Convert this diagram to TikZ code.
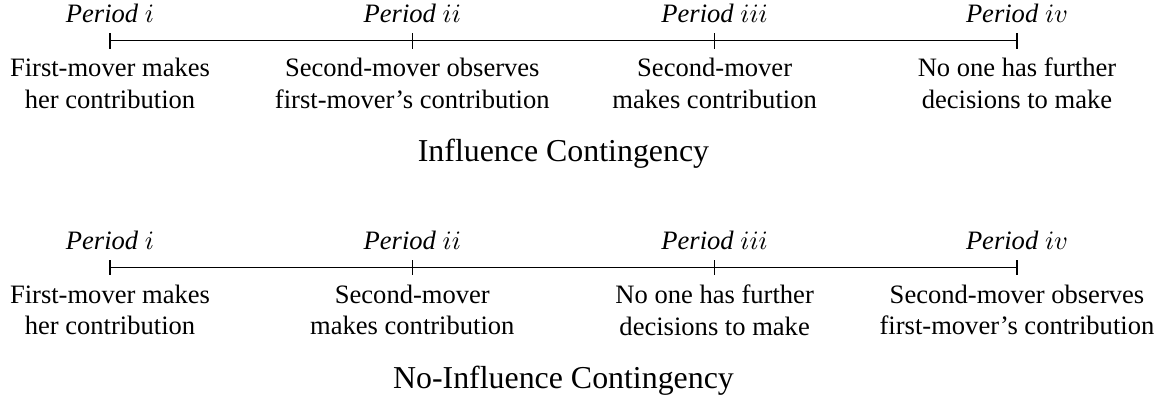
\documentclass[tikz,border=0pt]{standalone}
\usepackage{fontspec}
\setmainfont{Liberation Serif}
\begin{document}
\begin{tikzpicture}[
  tick/.style={line width=0.4pt},
  period/.style={anchor=base, inner sep=0pt},
  event/.style={anchor=north, align=center, inner sep=0.333em},
  title/.style={anchor=base, inner sep=0pt, font=\large}
]
\useasboundingbox (-1.455,0.542) rectangle (13.879,-4.750);

% ---------- Influence Contingency ----------
\foreach \i/\x in {1/0,2/4,3/8,4/12}{
  \coordinate (a\i) at (\x,0);
  \coordinate (a\i t) at (\x,0.1);
  \coordinate (a\i b) at (\x,-0.1);
  \draw[tick] (a\i t) -- (a\i b);
}
\draw (a1) -- (a4);
\node[period] (pa1) at (0,0.245) {\textit{Period} $i$};
\node[period] (pa2) at (4,0.245) {\textit{Period} $ii$};
\node[period] (pa3) at (8,0.245) {\textit{Period} $iii$};
\node[period] (pa4) at (12,0.245) {\textit{Period} $iv$};
\node[event] (ea1) at (a1b) {First-mover makes\\her contribution};
\node[event] (ea2) at (a2b) {Second-mover observes\\first-mover's contribution};
\node[event] (ea3) at (a3b) {Second-mover\\makes contribution};
\node[event] (ea4) at (a4b) {No one has further\\decisions to make};
\node[title] (ta) at (6,-1.60) {Influence Contingency};

% ---------- No-Influence Contingency ----------
\foreach \i/\x in {1/0,2/4,3/8,4/12}{
  \coordinate (b\i) at (\x,-3);
  \coordinate (b\i t) at (\x,-2.9);
  \coordinate (b\i b) at (\x,-3.1);
  \draw[tick] (b\i t) -- (b\i b);
}
\draw (b1) -- (b4);
\node[period] (pb1) at (0,-2.755) {\textit{Period} $i$};
\node[period] (pb2) at (4,-2.755) {\textit{Period} $ii$};
\node[period] (pb3) at (8,-2.755) {\textit{Period} $iii$};
\node[period] (pb4) at (12,-2.755) {\textit{Period} $iv$};
\node[event] (eb1) at (b1b) {First-mover makes\\her contribution};
\node[event] (eb2) at (b2b) {Second-mover\\makes contribution};
\node[event] (eb3) at (b3b) {No one has further\\decisions to make};
\node[event] (eb4) at (b4b) {Second-mover observes\\first-mover's contribution};
\node[title] (tb) at (6,-4.60) {No-Influence Contingency};
\end{tikzpicture}
\end{document}
